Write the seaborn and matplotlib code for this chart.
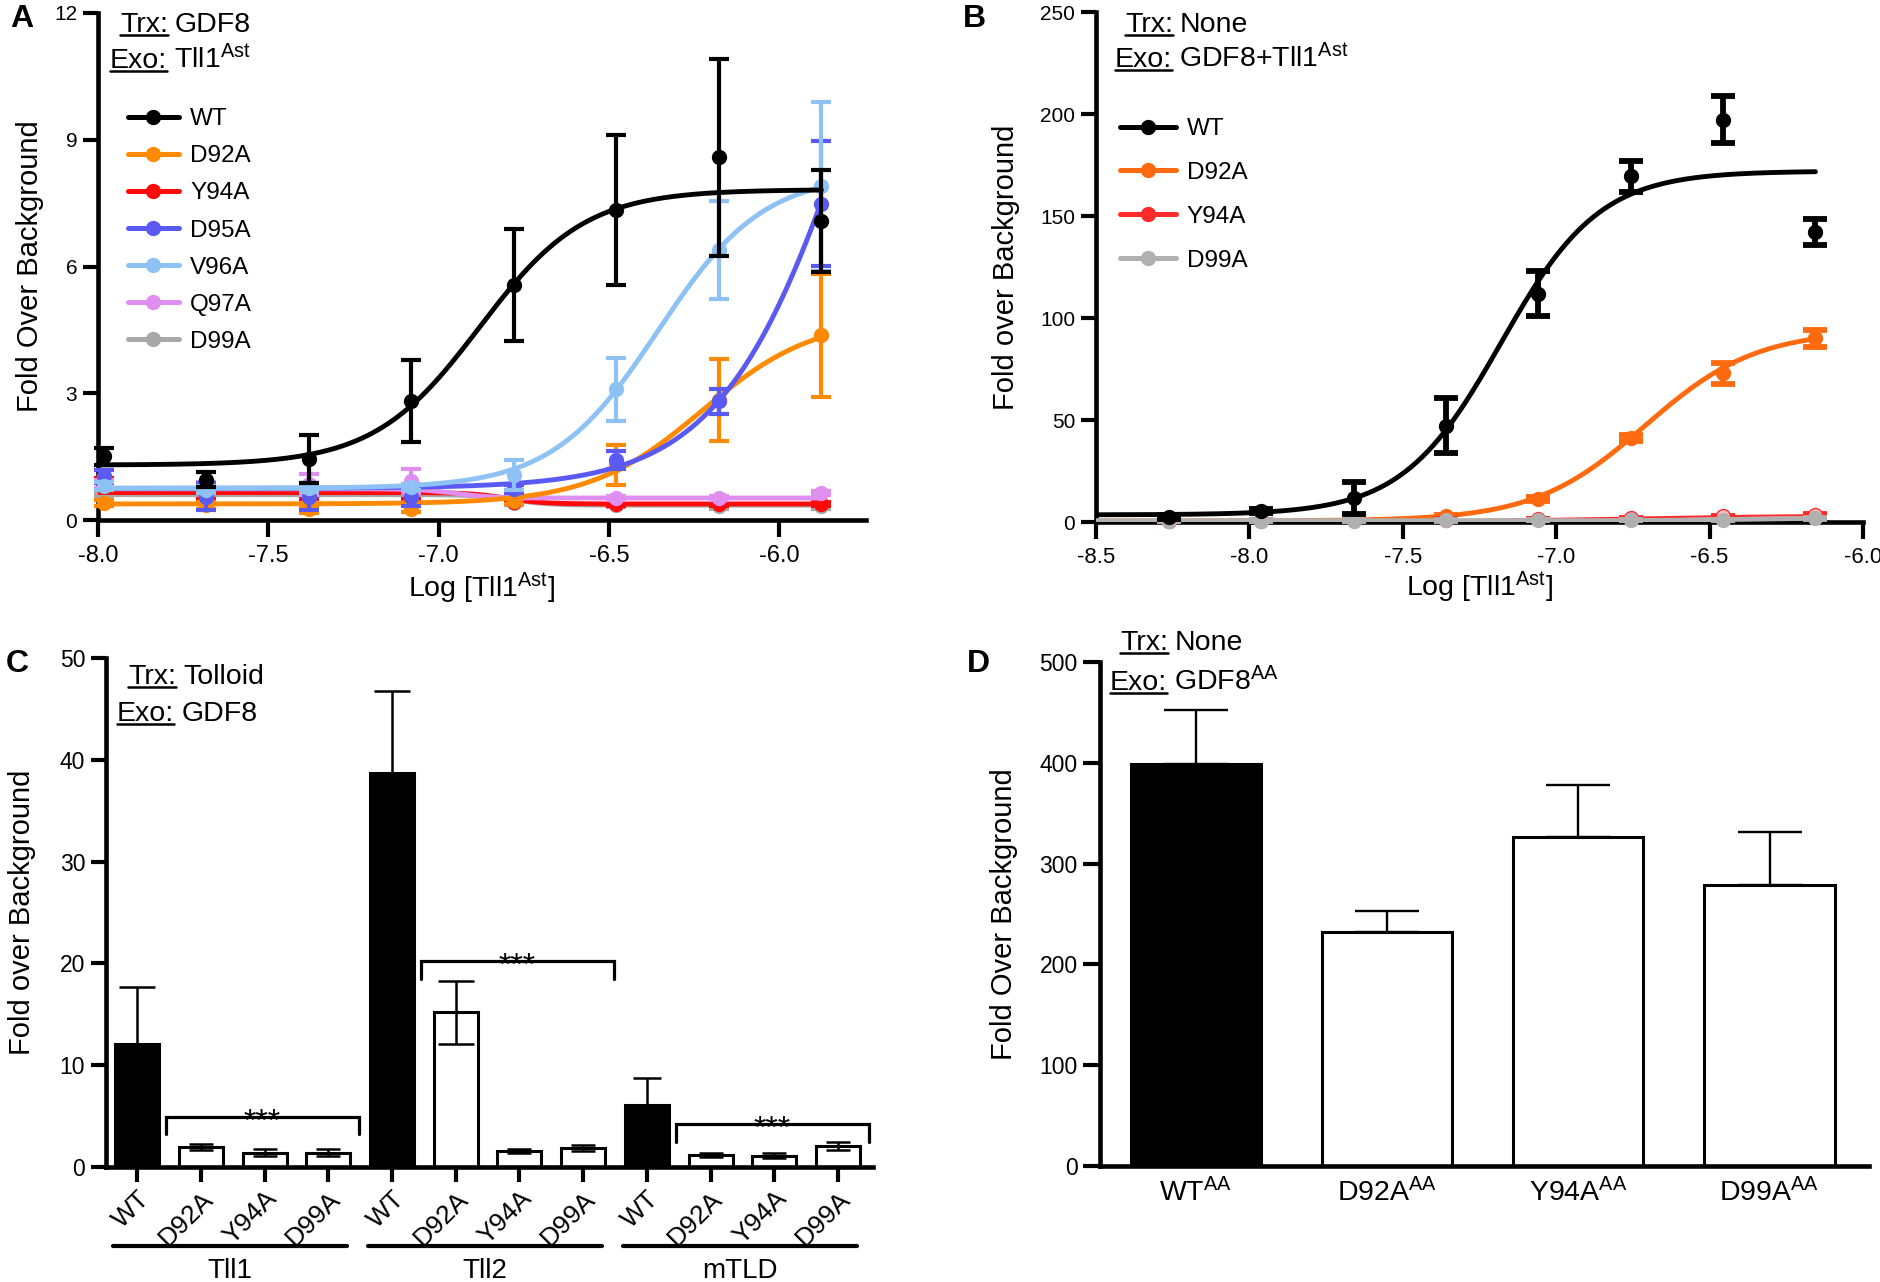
import numpy as np
import pandas as pd
import matplotlib
matplotlib.use("Agg")
import matplotlib.pyplot as plt
import seaborn as sns
from matplotlib.lines import Line2D
from matplotlib import transforms

# ---------------- DATA ----------------
# Panel A : Trx GDF8, Exo Tll1Ast  (log molar concentration)
A_logc = [-7.983, -7.682, -7.381, -7.080, -6.779, -6.478, -6.177, -5.876]
A_series = ["WT", "D92A", "Y94A", "D95A", "V96A", "Q97A", "D99A"]
A_WT_mean = [1.51, 0.95, 1.44, 2.82, 5.56, 7.34, 8.58, 7.08]
A_WT_err = [0.20, 0.18, 0.57, 0.97, 1.32, 1.77, 2.33, 1.20]
A_D92A_mean = [0.40, 0.35, 0.25, 0.27, 0.45, 1.30, 2.84, 4.37]
A_D92A_err = [0.08, 0.08, 0.08, 0.08, 0.08, 0.48, 0.96, 1.45]
A_Y94A_mean = [0.85, 0.60, 0.60, 0.60, 0.42, 0.38, 0.38, 0.38]
A_Y94A_err = [0.15, 0.10, 0.10, 0.10, 0.05, 0.05, 0.05, 0.05]
A_D95A_mean = [1.03, 0.55, 0.55, 0.55, 0.73, 1.42, 2.81, 7.49]
A_D95A_err = [0.15, 0.32, 0.32, 0.23, 0.10, 0.22, 0.30, 1.47]
A_V96A_mean = [0.80, 0.72, 0.75, 0.78, 1.07, 3.09, 6.39, 7.90]
A_V96A_err = [0.10, 0.08, 0.08, 0.08, 0.35, 0.75, 1.15, 2.00]
A_Q97A_mean = [0.85, 0.82, 0.85, 0.92, 0.55, 0.52, 0.52, 0.64]
A_Q97A_err = [0.10, 0.08, 0.25, 0.28, 0.05, 0.05, 0.05, 0.05]
A_D99A_mean = [0.60, 0.55, 0.55, 0.60, 0.40, 0.35, 0.32, 0.32]
A_D99A_err = [0.05, 0.05, 0.05, 0.05, 0.05, 0.05, 0.05, 0.05]
# fitted 4PL curves: left asymptote, right asymptote, logEC50, Hill slope
A_WT_fit = [1.30, 7.82, -6.88, 2.8]
A_D92A_fit = [0.38, 4.80, -6.226, 2.63]
A_Y94A_fit = [0.65, 0.38, -6.80, 8.0]
A_D95A_fit = [0.75, 20.0, -5.754, 2.17]
A_V96A_fit = [0.75, 8.20, -6.356, 2.8]
A_Q97A_fit = [0.74, 0.52, -6.95, 8.0]
A_D99A_fit = [0.60, 0.35, -6.78, 8.0]

# Panel B : Trx None, Exo GDF8 + Tll1Ast
B_logc = [-8.262, -7.961, -7.660, -7.359, -7.058, -6.757, -6.456, -6.155]
B_series = ["WT", "D92A", "Y94A", "D99A"]
B_WT_mean = [2.5, 5.5, 11.8, 47.3, 112.0, 169.6, 197.2, 142.0]
B_WT_err = [1.0, 1.0, 8.0, 13.5, 11.0, 7.6, 11.4, 6.3]
B_D92A_mean = [0.5, 0.6, 0.9, 2.9, 11.4, 41.0, 72.8, 90.0]
B_D92A_err = [0.2, 0.2, 0.3, 0.5, 1.0, 1.5, 5.0, 4.0]
B_Y94A_mean = [0.6, 0.8, 1.0, 1.2, 1.5, 1.8, 2.8, 3.4]
B_Y94A_err = [0.2, 0.2, 0.2, 0.2, 0.2, 0.2, 0.3, 0.3]
B_D99A_mean = [0.5, 0.6, 0.7, 0.8, 1.0, 1.0, 1.0, 1.8]
B_D99A_err = [0.2, 0.2, 0.2, 0.2, 0.2, 0.2, 0.2, 0.3]
B_WT_fit = [3.5, 172.0, -7.18, 2.7]
B_D92A_fit = [0.5, 94.0, -6.71, 2.4]
B_Y94A_fit = [0.5, 3.6, -6.80, 1.5]
B_D99A_fit = [0.6, 2.0, -6.40, 3.0]

# Panel C : Trx Tolloid, Exo GDF8
C_groups = ["Tll1", "Tll2", "mTLD"]
C_variants = ["WT", "D92A", "Y94A", "D99A"]
C_Tll1_mean = [12.1, 2.0, 1.4, 1.4]
C_Tll1_err = [5.6, 0.3, 0.35, 0.35]
C_Tll2_mean = [38.7, 15.2, 1.6, 1.9]
C_Tll2_err = [8.1, 3.1, 0.2, 0.3]
C_mTLD_mean = [6.05, 1.2, 1.1, 2.1]
C_mTLD_err = [2.7, 0.2, 0.25, 0.4]
C_bracket_height = [4.9, 20.2, 4.2]
C_bracket_text = "***"

# Panel D : Trx None, Exo GDF8AA
D_variants = ["WT", "D92A", "Y94A", "D99A"]
D_mean = [398.7, 232.6, 326.2, 279.2]
D_err = [54.0, 20.2, 52.2, 51.8]

# ---------------- STYLE ----------------
sns.set_theme(style="ticks")
plt.rcParams["font.family"] = ["Liberation Sans", "DejaVu Sans"]
plt.rcParams["mathtext.fontset"] = "custom"
plt.rcParams["mathtext.rm"] = "Liberation Sans"
plt.rcParams["mathtext.it"] = "Liberation Sans:italic"
plt.rcParams["mathtext.bf"] = "Liberation Sans:bold"
plt.rcParams["axes.unicode_minus"] = False
for k in ["text.color", "axes.labelcolor", "xtick.color", "ytick.color", "axes.edgecolor"]:
    plt.rcParams[k] = "black"

W, H = 1881, 1282
fig = plt.figure(figsize=(W / 100, H / 100), dpi=100)
fig.patch.set_facecolor("white")


def rect(l, r, t, b):
    return [l / W, 1 - b / H, (r - l) / W, (b - t) / H]


axA = fig.add_axes(rect(98, 866, 13, 520))
axB = fig.add_axes(rect(1096, 1863, 12, 522))
axC = fig.add_axes(rect(106, 873, 658, 1167))
axD = fig.add_axes(rect(1100, 1869, 662, 1166))


def base_style(ax):
    sns.despine(ax=ax)
    for s in ["left", "bottom"]:
        ax.spines[s].set_linewidth(3.3)
    ax.set_facecolor("white")
    ax.tick_params(direction="out", width=3, length=11, pad=4)


def fourpl(x, p):
    lo, hi, ec, h = p
    return lo + (hi - lo) / (1.0 + 10.0 ** (h * (ec - x)))


# ---------------- PANEL A ----------------
base_style(axA)
A_colors = {"WT": "#000000", "D92A": "#ff8a00", "Y94A": "#ff0a0a", "D95A": "#5a5af2",
            "V96A": "#8ec2f4", "Q97A": "#e08ef0", "D99A": "#a8a8a8"}
A_data = {"WT": (A_WT_mean, A_WT_err, A_WT_fit), "D92A": (A_D92A_mean, A_D92A_err, A_D92A_fit),
          "Y94A": (A_Y94A_mean, A_Y94A_err, A_Y94A_fit), "D95A": (A_D95A_mean, A_D95A_err, A_D95A_fit),
          "V96A": (A_V96A_mean, A_V96A_err, A_V96A_fit), "Q97A": (A_Q97A_mean, A_Q97A_err, A_Q97A_fit),
          "D99A": (A_D99A_mean, A_D99A_err, A_D99A_fit)}
A_xlim = (-8.0, -5.745)
xsA = np.linspace(A_xlim[0], A_logc[-1], 400)
for k, name in enumerate(["D99A", "Y94A", "Q97A", "D92A", "D95A", "V96A", "WT"]):
    mean, err, fit = A_data[name]
    c = A_colors[name]
    sns.lineplot(x=xsA, y=fourpl(xsA, fit), color=c, linewidth=3.5, ax=axA, zorder=3 + k, errorbar=None)
    axA.errorbar(A_logc, mean, yerr=err, fmt="o", color=c, ms=10, elinewidth=3, capsize=7,
                 capthick=3, zorder=3.5 + k, clip_on=False)
axA.set_xlim(*A_xlim)
axA.set_ylim(0, 12)
axA.set_yticks([0, 3, 6, 9, 12])
axA.set_xticks([-8.0, -7.5, -7.0, -6.5, -6.0])
axA.set_xticklabels([f"{v:.1f}" for v in [-8.0, -7.5, -7.0, -6.5, -6.0]])
axA.tick_params(axis="x", labelsize=17, length=12, pad=6)
axA.tick_params(axis="y", labelsize=15)
axA.set_xlabel(r"Log [Tll1$^{\mathrm{Ast}}$]", fontsize=20.5)
axA.set_ylabel("Fold Over Background", fontsize=21)
axA.xaxis.label.set_va("center")
axA.xaxis.set_label_coords(0.5, -0.134)
axA.yaxis.label.set_va("center")
axA.yaxis.set_label_coords(-0.088, 0.5)
hA = [Line2D([], [], color=A_colors[s], lw=3.6, marker="o", ms=10) for s in A_series]
axA.legend(hA, A_series, loc="upper left", bbox_to_anchor=(0.039, 0.812), frameon=False, fontsize=17.5,
           handlelength=2.1, handletextpad=0.45, labelspacing=0.62, borderpad=0, borderaxespad=0)

# ---------------- PANEL B ----------------
base_style(axB)
B_colors = {"WT": "#000000", "D92A": "#ff6a10", "Y94A": "#ff2a2a", "D99A": "#b0b0b0"}
B_lw = {"WT": 3.5, "D92A": 3.5, "Y94A": 1.6, "D99A": 3.5}
B_data = {"WT": (B_WT_mean, B_WT_err, B_WT_fit), "D92A": (B_D92A_mean, B_D92A_err, B_D92A_fit),
          "Y94A": (B_Y94A_mean, B_Y94A_err, B_Y94A_fit), "D99A": (B_D99A_mean, B_D99A_err, B_D99A_fit)}
B_xlim = (-8.5, -6.0)
xsB = np.linspace(B_xlim[0], B_logc[-1], 400)
for k, name in enumerate(["D92A", "Y94A", "D99A", "WT"]):
    mean, err, fit = B_data[name]
    c = B_colors[name]
    sns.lineplot(x=xsB, y=fourpl(xsB, fit), color=c, linewidth=B_lw[name], ax=axB, zorder=3 + k, errorbar=None)
    mfc = "#ffc0c0" if name == "Y94A" else c
    axB.errorbar(B_logc, mean, yerr=err, fmt="o", color=c, mfc=mfc, ms=10, elinewidth=4.2, capsize=8.5,
                 capthick=4.2, zorder=3.5 + k, clip_on=False)
axB.set_xlim(*B_xlim)
axB.set_ylim(0, 250)
axB.set_yticks([0, 50, 100, 150, 200, 250])
bt = [-8.5, -8.0, -7.5, -7.0, -6.5, -6.0]
axB.set_xticks(bt)
axB.set_xticklabels([f"{v:.1f}" for v in bt])
axB.tick_params(axis="x", labelsize=16, length=12, pad=6)
axB.tick_params(axis="y", labelsize=15)
axB.set_xlabel(r"Log [Tll1$^{\mathrm{Ast}}$]", fontsize=20.5)
axB.set_ylabel("Fold over Background", fontsize=21)
axB.xaxis.label.set_va("center")
axB.xaxis.set_label_coords(0.5, -0.129)
axB.yaxis.label.set_va("center")
axB.yaxis.set_label_coords(-0.117, 0.5)
hB = [Line2D([], [], color=B_colors[s], lw=3.6, marker="o", ms=10) for s in B_series]
axB.legend(hB, B_series, loc="upper left", bbox_to_anchor=(0.031, 0.792), frameon=False, fontsize=17.5,
           handlelength=2.3, handletextpad=0.45, labelspacing=0.9, borderpad=0, borderaxespad=0)

# ---------------- PANEL C ----------------
base_style(axC)
rows = []
for g, means, errs in zip(C_groups, [C_Tll1_mean, C_Tll2_mean, C_mTLD_mean],
                          [C_Tll1_err, C_Tll2_err, C_mTLD_err]):
    for v, m, e in zip(C_variants, means, errs):
        rows.append({"key": f"{g} {v}", "variant": v, "fill": "WT" if v == "WT" else "mutant",
                     "mean": m, "err": e})
dfC = pd.DataFrame(rows)
sns.barplot(data=dfC, x="key", y="mean", hue="fill", palette={"WT": "black", "mutant": "white"},
            dodge=False, width=0.69, edgecolor="black", linewidth=2.2, errorbar=None, legend=False,
            saturation=1, ax=axC, order=list(dfC["key"]))
for i, r in dfC.iterrows():
    lower = 0 if r["variant"] == "WT" else r["err"]
    cs = 13 if r["mean"] > 10 else (10 if r["variant"] == "WT" else 8.5)
    axC.errorbar(i, r["mean"], yerr=[[lower], [r["err"]]], fmt="none", ecolor="black",
                 elinewidth=1.8, capsize=cs, capthick=1.8, zorder=4)
for gi, hgt in enumerate(C_bracket_height):
    x0 = gi * 4 + 1 - 0.55
    x1 = gi * 4 + 3 + 0.48
    axC.plot([x0, x0, x1, x1], [hgt - 1.7, hgt, hgt, hgt - 1.7], color="black", lw=2.3,
             solid_joinstyle="miter", zorder=5)
    axC.annotate(C_bracket_text, xy=((x0 + x1) / 2, hgt), xytext=(0, -10), textcoords="offset points",
                 ha="center", va="baseline", fontsize=23, zorder=6)
axC.set_xlim(-0.49, 11.55)
axC.set_ylim(0, 50)
axC.set_yticks([0, 10, 20, 30, 40, 50])
axC.set_xticks(range(len(dfC)))
axC.set_xticklabels(list(dfC["variant"]), rotation=45, ha="right", va="top", rotation_mode="anchor")
axC.tick_params(axis="x", labelsize=19, length=11, pad=3)
axC.tick_params(axis="y", labelsize=16.5)
axC.set_xlabel("")
axC.set_ylabel("Fold over Background", fontsize=21)
axC.yaxis.label.set_va("center")
axC.yaxis.set_label_coords(-0.1095, 0.5)
transC = transforms.blended_transform_factory(axC.transData, axC.transAxes)
for gi, g in enumerate(C_groups):
    a = gi * 4 - 0.38
    b = gi * 4 + 3 + 0.3
    axC.plot([a, b], [-0.155, -0.155], color="black", lw=3, transform=transC, clip_on=False)
    axC.text((a + b) / 2, -0.204, g, transform=transC, ha="center", va="center", fontsize=20)

# ---------------- PANEL D ----------------
base_style(axD)
dfD = pd.DataFrame({"variant": D_variants, "mean": D_mean, "err": D_err,
                    "fill": ["WT" if v == "WT" else "mutant" for v in D_variants]})
sns.barplot(data=dfD, x="variant", y="mean", hue="fill", palette={"WT": "black", "mutant": "white"},
            dodge=False, width=0.68, edgecolor="black", linewidth=2.2, errorbar=None, legend=False,
            saturation=1, ax=axD, order=D_variants)
for i, r in dfD.iterrows():
    axD.errorbar(i, r["mean"], yerr=[[0], [r["err"]]], fmt="none", ecolor="black",
                 elinewidth=1.7, capsize=23, capthick=1.7, zorder=4)
axD.set_xlim(-0.5, 3.52)
axD.set_ylim(0, 500)
axD.set_yticks([0, 100, 200, 300, 400, 500])
axD.set_xticks(range(len(D_variants)))
axD.set_xticklabels([v + r"$^{\mathrm{AA}}$" for v in D_variants])
axD.tick_params(axis="x", labelsize=20.5, length=0, pad=9)
axD.tick_params(axis="y", labelsize=16.5, length=12)
axD.set_xlabel("")
axD.set_ylabel("Fold Over Background", fontsize=21)
axD.yaxis.label.set_va("center")
axD.yaxis.set_label_coords(-0.125, 0.5)

# ---------------- ANNOTATIONS ----------------
renderer = fig.canvas.get_renderer()


def keyval(xp, yp, key, val, size=20.5):
    t = fig.text(xp / W, 1 - yp / H, key, fontsize=size, ha="left", va="baseline")
    bb = t.get_window_extent(renderer=renderer)
    fig.text((bb.x1 + 7) / W, 1 - yp / H, val, fontsize=size, ha="left", va="baseline")
    fig.add_artist(Line2D([bb.x0 / W, bb.x1 / W], [1 - (yp + 3) / H] * 2,
                          transform=fig.transFigure, color="black", lw=1.8))


keyval(120, 31.5, "Trx:", "GDF8")
keyval(110, 68, "Exo:", r"Tll1$^{\mathrm{Ast}}$")
keyval(1125, 31.5, "Trx:", "None")
keyval(1115, 67, "Exo:", r"GDF8+Tll1$^{\mathrm{Ast}}$")
keyval(128, 684, "Trx:", "Tolloid")
keyval(117, 721, "Exo:", "GDF8")
keyval(1120, 650, "Trx:", "None")
keyval(1110, 690, "Exo:", r"GDF8$^{\mathrm{AA}}$")

for lab, xp, yp in [("A", 10, 27), ("B", 963, 27), ("C", 6, 672), ("D", 967, 672)]:
    fig.text(xp / W, 1 - yp / H, lab, fontsize=23, fontweight="bold", ha="left", va="baseline")

fig.savefig("out.png", dpi=100, facecolor="white")
